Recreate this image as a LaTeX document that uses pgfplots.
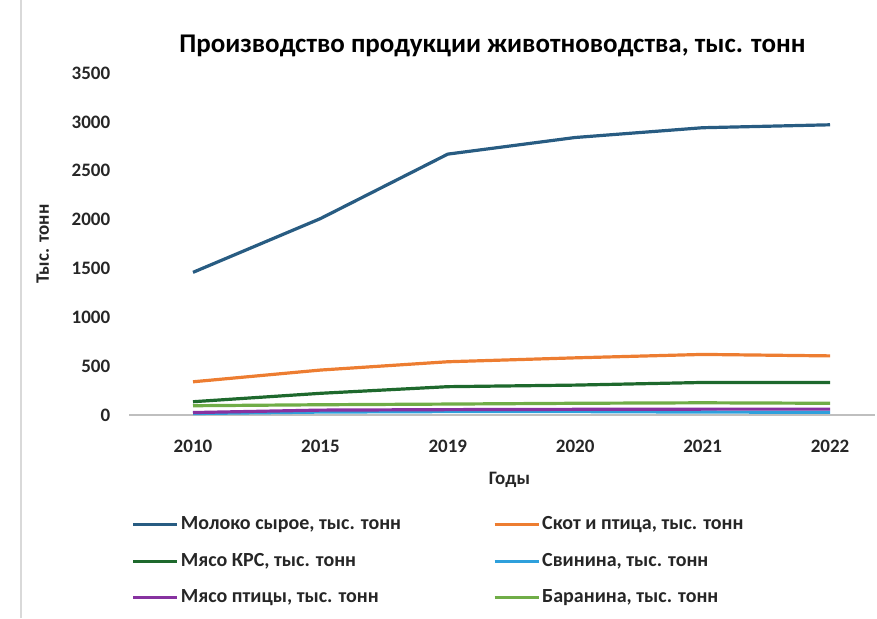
\documentclass[border=0pt]{standalone}
\usepackage{fontspec}
\setmainfont{Carlito}
\usepackage{pgfplots}
\pgfplotsset{compat=1.18}
\definecolor{milk}{RGB}{40,92,130}
\definecolor{scot}{RGB}{237,125,49}
\definecolor{krs}{RGB}{30,105,45}
\definecolor{pork}{RGB}{46,160,220}
\definecolor{poultry}{RGB}{135,50,160}
\definecolor{lamb}{RGB}{112,173,71}
\begin{document}
\begin{tikzpicture}[x=1pt,y=1pt]
\path[use as bounding box] (0,0) rectangle (438.5,309);
\draw[black!15, line width=0.6pt] (10.5,0) -- (10.5,309);
\begin{axis}[
  at={(64.65pt,101.5pt)}, anchor=south west,
  width=372.65pt, height=171pt, scale only axis,
  xmin=-0.5, xmax=5.35, ymin=0, ymax=3500,
  xtick={0,1,2,3,4,5},
  xticklabels={2010,2015,2019,2020,2021,2022},
  ytick={0,500,1000,1500,2000,2500,3000,3500},
  axis x line*=bottom, axis y line*=left,
  x axis line style={black!25, line width=0.6pt},
  y axis line style={draw=none},
  major tick length=0pt,
  /pgf/number format/1000 sep={},
  /pgf/number format/assume math mode=true,
  ticklabel style={font=\bfseries\fontsize{9.5}{11}\selectfont, text=black!85},
  yticklabel style={xshift=-6pt},
  xticklabel style={yshift=-9pt},
  title={Производство продукции животноводства, тыс. тонн},
  title style={font=\bfseries\fontsize{13.5}{15}\selectfont, at={(axis description cs:0.487,1)}, anchor=center, yshift=7.5pt},
  xlabel={Годы},
  xlabel style={font=\bfseries\fontsize{9.5}{11}\selectfont, text=black!85, at={(axis description cs:0.51,0)}, anchor=center, yshift=-32.5pt},
  ylabel={Тыс. тонн},
  ylabel style={font=\bfseries\fontsize{9.5}{11}\selectfont, text=black!85, at={(axis description cs:-0.116,0.5)}, anchor=center, rotate=0},
  legend columns=2,
  legend cell align=left,
  legend image code/.code={\draw[#1, line width=1.6pt] (0pt,0pt) -- (22pt,0pt);},
  legend style={draw=none, fill=none, at={(axis description cs:0,0)}, anchor=north west,
    yshift=-46.5pt, xshift=-2pt,
    font=\bfseries\fontsize{10}{12}\selectfont, text=black!85,
    row sep=6.3pt,
    /tikz/every even column/.append style={column sep=45pt},
    nodes={inner xsep=1pt}},
  every axis plot/.append style={line width=1.6pt, mark=none},
]
\addplot[milk] coordinates {(0,1460) (1,2010) (2,2670) (3,2840) (4,2940) (5,2970)};
\addlegendentry{Молоко сырое, тыс. тонн}
\addplot[scot] coordinates {(0,340) (1,460) (2,545) (3,585) (4,620) (5,605)};
\addlegendentry{Скот и птица, тыс. тонн}
\addplot[krs] coordinates {(0,136) (1,222) (2,290) (3,306) (4,333) (5,333)};
\addlegendentry{Мясо КРС, тыс. тонн}
\addplot[pork] coordinates {(0,15) (1,30) (2,35) (3,35) (4,30) (5,28)};
\addlegendentry{Свинина, тыс. тонн}
\addplot[poultry] coordinates {(0,25) (1,50) (2,55) (3,58) (4,60) (5,60)};
\addlegendentry{Мясо птицы, тыс. тонн}
\addplot[lamb] coordinates {(0,95) (1,105) (2,112) (3,120) (4,125) (5,120)};
\addlegendentry{Баранина, тыс. тонн}
\end{axis}
\end{tikzpicture}
\end{document}
